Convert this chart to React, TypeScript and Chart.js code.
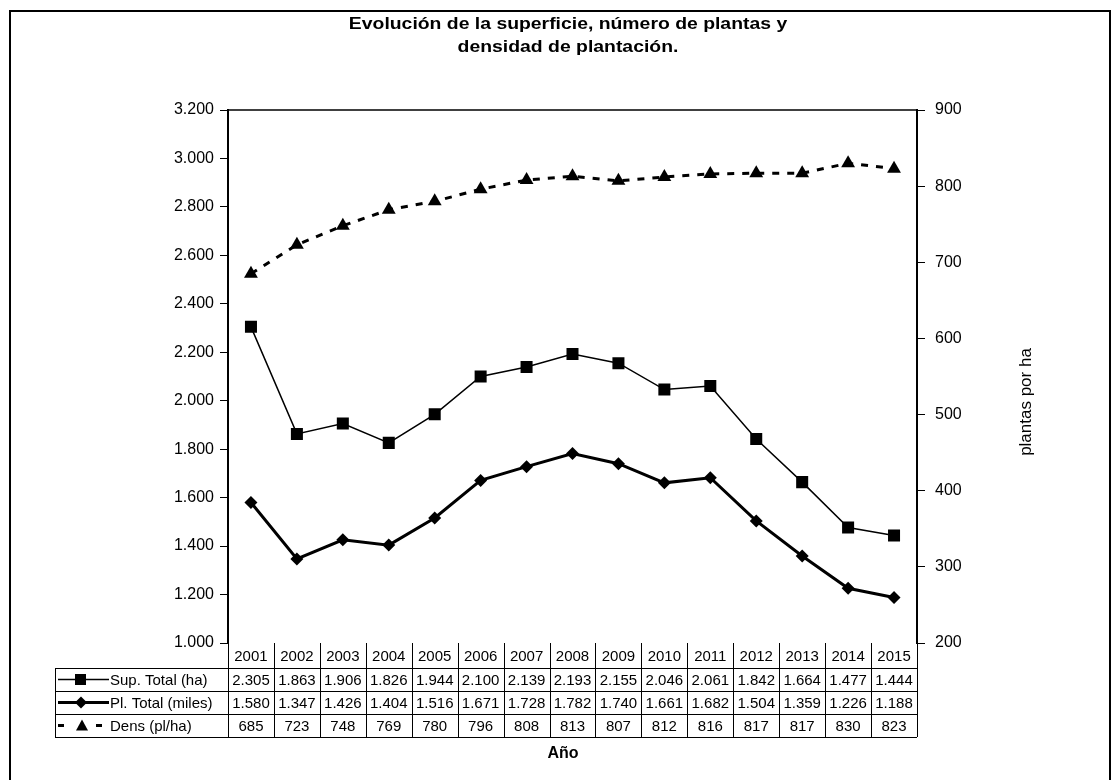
import React, { useEffect, useRef } from 'react';
import { Chart, registerables } from 'chart.js';

Chart.register(...registerables);

const titleLines = ['Evolución de la superficie, número de plantas y', 'densidad de plantación.'];
const years = ['2001', '2002', '2003', '2004', '2005', '2006', '2007', '2008', '2009', '2010', '2011', '2012', '2013', '2014', '2015'];
const supTotal = [2305, 1863, 1906, 1826, 1944, 2100, 2139, 2193, 2155, 2046, 2061, 1842, 1664, 1477, 1444];
const plTotal = [1580, 1347, 1426, 1404, 1516, 1671, 1728, 1782, 1740, 1661, 1682, 1504, 1359, 1226, 1188];
const dens = [685, 723, 748, 769, 780, 796, 808, 813, 807, 812, 816, 817, 817, 830, 823];
const seriesLabels = ['Sup. Total (ha)', 'Pl. Total (miles)', 'Dens (pl/ha)'];
const xTitle = 'Año';
const yRightTitle = 'plantas por ha';

const FONT = '"Liberation Sans", Arial, sans-serif';
const fmt = (v: number) => String(v).replace(/\B(?=(\d{3})+(?!\d))/g, '.');

const framePlugin = {
  id: 'framePlugin',
  beforeDraw(chart: any) {
    const ctx = chart.ctx;
    ctx.save();
    ctx.fillStyle = '#ffffff';
    ctx.fillRect(0, 0, chart.width, chart.height);
    ctx.strokeStyle = '#000';
    ctx.lineWidth = 2;
    ctx.strokeRect(10, 11, 1100, 800);
    ctx.restore();
  },
  afterDraw(chart: any) {
    const ctx = chart.ctx;
    const ca = chart.chartArea;
    const xs = chart.scales.x;
    ctx.save();
    // plot box top edge
    ctx.strokeStyle = '#000';
    ctx.lineWidth = 1.5;
    ctx.beginPath();
    ctx.moveTo(ca.left, ca.top);
    ctx.lineTo(ca.right, ca.top);
    ctx.stroke();

    // title (slightly widened like the scanned original)
    ctx.fillStyle = '#000';
    ctx.font = `bold 17px ${FONT}`;
    ctx.textAlign = 'center';
    ctx.textBaseline = 'middle';
    ctx.save();
    ctx.translate(568, 0);
    ctx.scale(1.14, 1);
    ctx.fillText(titleLines[0], 0, 24);
    ctx.fillText(titleLines[1], 0, 47);
    ctx.restore();

    // right axis title
    ctx.save();
    ctx.translate(1026, 402);
    ctx.rotate(-Math.PI / 2);
    ctx.font = `17px ${FONT}`;
    ctx.fillText(yRightTitle, 0, 0);
    ctx.restore();

    // x title
    ctx.font = `bold 16px ${FONT}`;
    ctx.fillText(xTitle, 563, 754);

    // data table
    const n = years.length;
    const colW = (ca.right - ca.left) / n;
    const rows = [ca.bottom, ca.bottom + 25, ca.bottom + 48, ca.bottom + 71, ca.bottom + 94];
    const tableLeft = 55;
    ctx.lineWidth = 1;
    ctx.strokeStyle = '#000';
    ctx.beginPath();
    for (let r = 1; r < rows.length; r++) {
      ctx.moveTo(tableLeft, rows[r] + 0.5);
      ctx.lineTo(ca.right, rows[r] + 0.5);
    }
    ctx.moveTo(tableLeft + 0.5, rows[1]);
    ctx.lineTo(tableLeft + 0.5, rows[4]);
    for (let i = 0; i <= n; i++) {
      const x = Math.round(xs.getPixelForValue(i) - colW / 2) + 0.5;
      ctx.moveTo(x, rows[0]);
      ctx.lineTo(x, rows[4]);
    }
    ctx.stroke();

    ctx.font = `15px ${FONT}`;
    ctx.textAlign = 'center';
    const allVals = [supTotal, plTotal, dens];
    for (let i = 0; i < n; i++) {
      const cx = xs.getPixelForValue(i);
      ctx.fillText(years[i], cx, (rows[0] + rows[1]) / 2 + 1);
      for (let s = 0; s < 3; s++) {
        const v = allVals[s][i];
        ctx.fillText(s === 2 ? String(v) : fmt(v), cx, (rows[s + 1] + rows[s + 2]) / 2 + 1);
      }
    }
    // legend keys
    ctx.textAlign = 'left';
    for (let s = 0; s < 3; s++) {
      const cy = (rows[s + 1] + rows[s + 2]) / 2;
      ctx.fillText(seriesLabels[s], 110, cy + 1);
      ctx.beginPath();
      if (s === 0) {
        ctx.lineWidth = 1.5;
        ctx.moveTo(58, cy); ctx.lineTo(109, cy); ctx.stroke();
        ctx.fillRect(75, cy - 5.5, 11, 11);
      } else if (s === 1) {
        ctx.lineWidth = 3;
        ctx.moveTo(58, cy); ctx.lineTo(109, cy); ctx.stroke();
        ctx.beginPath();
        ctx.moveTo(81, cy - 6); ctx.lineTo(87, cy); ctx.lineTo(81, cy + 6); ctx.lineTo(75, cy);
        ctx.closePath(); ctx.fill();
      } else {
        ctx.lineWidth = 3;
        ctx.moveTo(58, cy); ctx.lineTo(64, cy);
        ctx.moveTo(96, cy); ctx.lineTo(102, cy);
        ctx.stroke();
        ctx.beginPath();
        ctx.moveTo(82, cy - 6); ctx.lineTo(88, cy + 5); ctx.lineTo(76, cy + 5);
        ctx.closePath(); ctx.fill();
      }
    }
    ctx.restore();
  },
};

export default function App() {
  const ref = useRef<HTMLCanvasElement>(null);
  useEffect(() => {
    document.body.style.margin = '0';
    const chart = new Chart(ref.current as HTMLCanvasElement, {
      type: 'line',
      data: {
        labels: years,
        datasets: [
          {
            label: seriesLabels[0],
            data: supTotal,
            yAxisID: 'y',
            borderColor: '#000',
            backgroundColor: '#000',
            borderWidth: 1.5,
            pointStyle: 'rect',
            pointRadius: 8.5,
            pointBorderWidth: 0,
            tension: 0,
          },
          {
            label: seriesLabels[1],
            data: plTotal,
            yAxisID: 'y',
            borderColor: '#000',
            backgroundColor: '#000',
            borderWidth: 3,
            pointStyle: 'rectRot',
            pointRadius: 6.5,
            pointBorderWidth: 0,
            tension: 0,
          },
          {
            label: seriesLabels[2],
            data: dens,
            yAxisID: 'y1',
            borderColor: '#000',
            backgroundColor: '#000',
            borderWidth: 3,
            borderDash: [7, 8],
            pointStyle: 'triangle',
            pointRadius: 8,
            pointBorderWidth: 0,
            tension: 0,
          },
        ],
      },
      options: {
        animation: false,
        responsive: false,
        maintainAspectRatio: false,
        layout: { padding: { left: 0, right: 0, top: 110, bottom: 137 } },
        plugins: {
          legend: { display: false },
          title: { display: false },
          tooltip: { enabled: false },
        },
        scales: {
          x: {
            type: 'category',
            offset: true,
            display: false,
            grid: { display: false },
          },
          y: {
            position: 'left',
            min: 1000,
            max: 3200,
            afterFit: (s: any) => { s.width = 228; },
            ticks: {
              stepSize: 200,
              color: '#000',
              font: { family: FONT, size: 16 },
              padding: 6,
              callback: (v: any) => fmt(Number(v)),
            },
            grid: { drawOnChartArea: false, drawTicks: true, tickLength: 8, color: '#000', lineWidth: 1 },
            border: { display: true, color: '#000', width: 2 },
          },
          y1: {
            position: 'right',
            min: 200,
            max: 900,
            afterFit: (s: any) => { s.width = 198; },
            ticks: {
              stepSize: 100,
              color: '#000',
              font: { family: FONT, size: 16 },
              padding: 10,
            },
            grid: { drawOnChartArea: false, drawTicks: true, tickLength: 8, color: '#000', lineWidth: 1 },
            border: { display: true, color: '#000', width: 2 },
          },
        },
      },
      plugins: [framePlugin],
    });
    return () => chart.destroy();
  }, []);
  return (
    <canvas
      ref={ref}
      width={1115}
      height={780}
      style={{ display: 'block', width: 1115, height: 780 }}
    />
  );
}
